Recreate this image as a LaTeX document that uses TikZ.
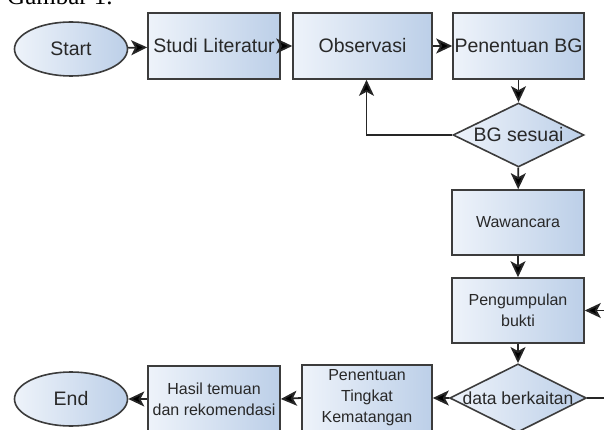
\documentclass[tikz,border=0pt]{standalone}
\usepackage{fontspec}
\setmainfont{Liberation Serif}
\setsansfont{Liberation Sans}
\usepackage{tikz}
\usetikzlibrary{shapes.geometric, arrows.meta, positioning}
\definecolor{boxlight}{RGB}{238,243,250}
\definecolor{boxdark}{RGB}{188,207,232}
\definecolor{edgegray}{RGB}{60,60,60}
\definecolor{txtgray}{RGB}{40,40,40}
\tikzset{
    stepbox/.style={rectangle, draw=edgegray, line width=1.6pt,
                    left color=boxlight, right color=boxdark, align=center,
                    inner sep=0pt, text=txtgray,
                    font=\sffamily\fontsize{19.5pt}{22pt}\selectfont},
    smallbox/.style={stepbox, font=\sffamily\fontsize{16pt}{21pt}\selectfont},
    termnode/.style={ellipse, draw=edgegray, line width=1.6pt,
                     left color=boxlight, right color=boxdark, inner sep=0pt,
                     minimum width=113pt, minimum height=54pt, text=txtgray,
                     font=\sffamily\fontsize{19.5pt}{22pt}\selectfont},
    decide/.style={diamond, aspect=2, draw=edgegray, line width=1.6pt,
                   left color=boxlight, right color=boxdark, inner sep=0pt,
                   minimum width=131pt, minimum height=64pt, text=txtgray,
                   font=\sffamily\fontsize{19.5pt}{22pt}\selectfont},
    arrow/.style={-{Stealth[length=16pt, width=15pt, inset=4pt, fill=black]}, line width=1.8pt, draw=black!85},
}
\begin{document}
\begin{tikzpicture}[x=1pt, y=-1pt]
    \clip (0,0) rectangle (604,430);
    \node[anchor=base west, inner sep=0pt, font=\rmfamily\fontsize{25pt}{28pt}\selectfont] (cap) at (7,5) {Gambar 1.};
    % top row
    \node[termnode] (start) at (71,49) {Start};
    \node[stepbox, minimum width=132pt, minimum height=66pt] (studi) at (214,46) {Studi Literatur};
    \node[stepbox, minimum width=139pt, minimum height=66pt] (obs) at (362.5,46) {Observasi};
    \node[stepbox, minimum width=131pt, minimum height=66pt] (pbg) at (518.5,46) {Penentuan BG};
    \node[decide] (bgs) at (518.5,135) {BG sesuai};
    % right column
    \node[smallbox, minimum width=132pt, minimum height=65pt] (waw) at (518,222.5) {Wawancara};
    \node[smallbox, minimum width=132pt, minimum height=65pt] (peng) at (518,310.5) {Pengumpulan\\bukti};
    \node[decide, minimum width=130pt, font=\sffamily\fontsize{17.5pt}{21pt}\selectfont] (dbk) at (518,398) {data berkaitan};
    % bottom row
    \node[smallbox, minimum width=130pt, minimum height=66pt] (ptk) at (367,398) {Penentuan\\Tingkat\\Kematangan};
    \node[smallbox, minimum width=132pt, minimum height=66pt] (hasil) at (214,399) {Hasil temuan\\dan rekomendasi};
    \node[termnode] (end) at (71,399) {End};

    \draw[arrow] (start) -- (studi);
    \draw[arrow] (studi) -- (obs);
    \draw[arrow] (obs) -- (pbg);
    \draw[arrow] (pbg) -- (bgs);
    \draw[arrow] (bgs.west) -| ([xshift=4pt]obs.south);
    \draw[arrow] (bgs) -- (waw);
    \draw[arrow] (waw) -- (peng);
    \draw[arrow] (peng) -- (dbk);
    \draw[arrow] (dbk.east) -- ++(40,0) |- (peng.east);
    \draw[arrow] (dbk.west) -- (ptk.east);
    \draw[arrow] (ptk.west) -- (hasil.east);
    \draw[arrow] (hasil.west) -- (end.east);
\end{tikzpicture}
\end{document}
